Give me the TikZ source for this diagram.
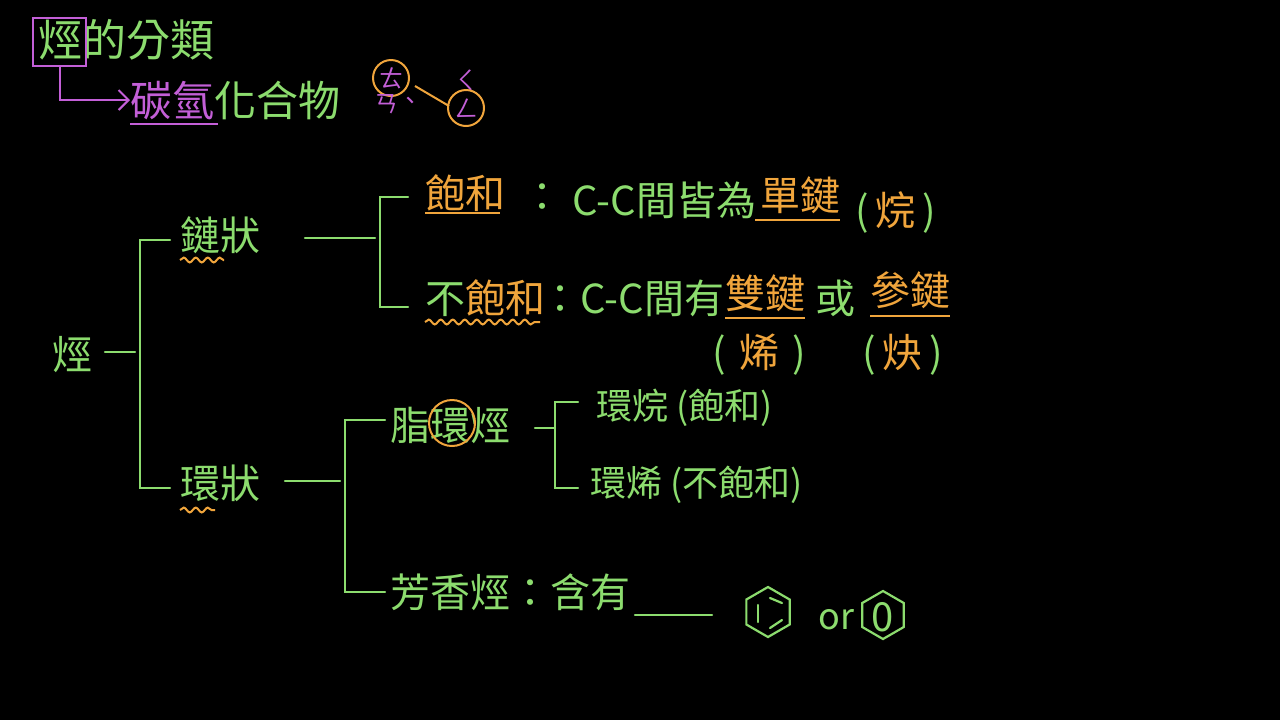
\documentclass[tikz,border=0pt]{standalone}
\usepackage{fontspec}
\setmainfont{Noto Sans CJK TC}
\usetikzlibrary{decorations.pathmorphing,arrows.meta}
\definecolor{gr}{RGB}{140,220,110}
\definecolor{og}{RGB}{240,165,60}
\definecolor{mg}{RGB}{195,95,215}
\begin{document}
\begin{tikzpicture}[x=0.5pt,y=-0.5pt,
  t/.style={text=gr,font=\fontsize{20}{22}\selectfont,inner sep=0pt,anchor=west},
  o/.style={t,text=og},
  ln/.style={draw=gr,line width=1.1pt,line cap=round},
  wv/.style={draw=og,line width=1pt,decorate,decoration={snake,amplitude=1.2pt,segment length=6pt}},
  ul/.style={draw=og,line width=1pt},
  bp/.style={text=mg,inner sep=0pt,font=\fontsize{12}{12}\selectfont}]
\fill[black] (0,0) rectangle (1280,720);
\useasboundingbox (0,0) rectangle (1280,720);
% title
\node[t,font=\fontsize{22}{24}\selectfont] (title) at (38,40) {烴的分類};
\draw[mg,line width=1pt] (33,18) rectangle (86,66);
\coordinate (a0) at (60,66);
\node[t,font=\fontsize{21}{24}\selectfont] (ch) at (130,100) {\textcolor{mg}{碳氫}化合物};
\draw[mg,line width=1pt,-{Straight Barb[length=5pt]}] (a0) |- (ch.west);
\draw[mg,line width=1pt] (130,124) -- (218,124);
\node[bp] (b1) at (391,78) {ㄊ};
\draw[og,line width=1pt] (391,78) circle (18);
\node[bp] (b2) at (386,104) {ㄢ};
\node[bp] (b5) at (410,103) {、};
\node[bp] (b3) at (466,80) {ㄑ};
\node[bp] (b4) at (466,108) {ㄥ};
\draw[og,line width=1pt] (466,108) circle (18);
\draw[og,line width=1pt] (415,86) -- (449,106);
% main tree
\node[t] (root) at (52,355) {烴};
\draw[ln] (105,352) -- (135,352);
\draw[ln] (170,240) -- (140,240) -- (140,488) -- (170,488);
\node[t] (chain) at (180,235) {鏈狀};
\draw[wv] (180,260) -- (224,260);
\draw[ln] (305,238) -- (375,238);
\draw[ln] (408,197) -- (380,197) -- (380,307) -- (408,307);
\node[o] (sat) at (425,193) {飽和};
\draw[ul] (425,213) -- (500,213);
\node[t] (colon1) at (522,198) {：};
\node[t] (s1) at (572,200) {C-C間皆為};
\node[o] (s2) at (760,195) {單鍵};
\draw[ul] (755,220) -- (840,220);
\node[t] (s3) at (855,212) {(\,\textcolor{og}{烷}\,)};
\node[o] (unsat) at (425,298) {\textcolor{gr}{不}飽和};
\draw[wv] (425,322) -- (540,322);
\node[t] (u1) at (540,298) {：C-C間有};
\node[o] (u2) at (725,293) {雙鍵};
\draw[ul] (725,318) -- (805,318);
\node[t] (u3) at (815,298) {或};
\node[o] (u4) at (870,290) {參鍵};
\draw[ul] (870,316) -- (950,316);
\node[t] (p1) at (712,355) {(\,\,\textcolor{og}{烯}\,\,)};
\node[t] (p2) at (862,355) {(\,\textcolor{og}{炔}\,)};
\node[t] (ring) at (180,483) {環狀};
\draw[wv] (180,510) -- (215,510);
\draw[ln] (285,481) -- (340,481);
\draw[ln] (385,420) -- (345,420) -- (345,592) -- (385,592);
\node[t] (ali) at (390,425) {脂環烴};
\draw[og,line width=1pt] (452,423) circle (23);
\draw[ln] (535,428) -- (555,428);
\draw[ln] (578,402) -- (555,402) -- (555,488) -- (578,488);
\node[t,font=\fontsize{18}{20}\selectfont] (c1) at (596,408) {環烷 (飽和)};
\node[t,font=\fontsize{18}{20}\selectfont] (c2) at (590,485) {環烯 (不飽和)};
\node[t] (aro) at (390,592) {芳香烴：含有};
\draw[ln] (635,615) -- (712,615);
\draw[ln] (768,612) +(90:25) -- +(150:25) -- +(210:25) -- +(270:25) -- +(330:25) -- +(30:25) -- cycle;
\draw[ln] (758,605) -- (758,622);
\draw[ln] (770,598) -- (782,603);
\draw[ln] (770,628) -- (782,620);
\node[t,font=\fontsize{18}{20}\selectfont] (or) at (818,620) {or};
\draw[ln] (883,615) +(90:24) -- +(150:24) -- +(210:24) -- +(270:24) -- +(330:24) -- +(30:24) -- cycle;
\node[t,anchor=center] at (883,617) {0};
\end{tikzpicture}
\end{document}
